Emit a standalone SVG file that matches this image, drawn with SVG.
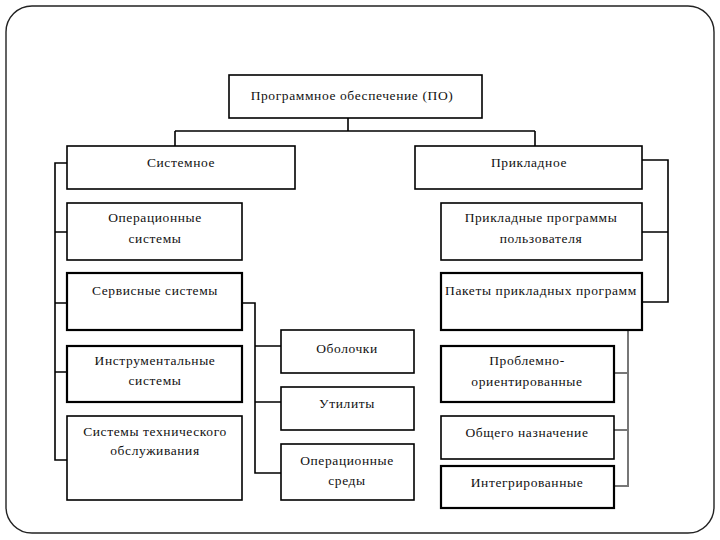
<svg xmlns="http://www.w3.org/2000/svg" width="720" height="540" viewBox="0 0 720 540">
<style>
.box{fill:#fff;stroke:#000;stroke-width:1.6}
.thick{stroke-width:2.2}
.t{font-family:"Liberation Serif","Times New Roman",serif;font-size:13.5px;fill:#111;text-anchor:middle;letter-spacing:0.6px}
.c{fill:none;stroke:#000;stroke-width:1.6}
.g{fill:none;stroke:#777;stroke-width:2}
</style>
<rect width="720" height="540" fill="#fff"/>
<rect x="6" y="6" width="708" height="527" rx="26" ry="26" fill="#fff" stroke="#222" stroke-width="1.4"/>
<g id="connectors">
<path class="c" d="M348 118V131M175 131H535M175 131V146M535 131V146"/>
<path class="c" d="M67 163H55V460H67M55 232H67M55 303H67M55 372H67"/>
<path class="c" d="M242 303H255V473H281M255 346H281M255 402H281"/>
<path class="c" d="M642 160H668V302H642M642 232H668"/>
<path class="g" d="M628 330V486H614M614 373H628M614 430H628"/>
</g>
<g id="n-root"><rect class="box" x="229" y="75" width="253" height="43"/><text class="t" x="352" y="100">Программное обеспечение (ПО)</text></g>
<g id="n-sys"><rect class="box" x="67" y="146" width="228" height="43"/><text class="t" x="181" y="167">Системное</text></g>
<g id="n-app"><rect class="box" x="415" y="146" width="227" height="43"/><text class="t" x="529" y="167">Прикладное</text></g>
<g id="n-os"><rect class="box" x="67" y="203" width="175" height="57"/><text class="t" x="155" y="222">Операционные</text><text class="t" x="155" y="243">системы</text></g>
<g id="n-serv"><rect class="box thick" x="67" y="273" width="175" height="57"/><text class="t" x="155" y="295">Сервисные системы</text></g>
<g id="n-instr"><rect class="box thick" x="67" y="346" width="175" height="56"/><text class="t" x="155" y="365">Инструментальные</text><text class="t" x="155" y="385">системы</text></g>
<g id="n-tech"><rect class="box" x="67" y="416" width="175" height="84"/><text class="t" x="155" y="436">Системы технического</text><text class="t" x="155" y="455">обслуживания</text></g>
<g id="n-shell"><rect class="box" x="281" y="330" width="133" height="43"/><text class="t" x="347" y="353">Оболочки</text></g>
<g id="n-util"><rect class="box" x="281" y="387" width="133" height="43"/><text class="t" x="347" y="408">Утилиты</text></g>
<g id="n-env"><rect class="box" x="281" y="444" width="133" height="56"/><text class="t" x="347" y="465">Операционные</text><text class="t" x="347" y="485">среды</text></g>
<g id="n-user"><rect class="box" x="441" y="203" width="201" height="57"/><text class="t" x="541" y="222">Прикладные программы</text><text class="t" x="541" y="243">пользователя</text></g>
<g id="n-pack"><rect class="box thick" x="441" y="273" width="201" height="57"/><text class="t" x="541" y="295">Пакеты прикладных программ</text></g>
<g id="n-prob"><rect class="box thick" x="441" y="346" width="173" height="56"/><text class="t" x="527" y="365">Проблемно-</text><text class="t" x="527" y="386">ориентированные</text></g>
<g id="n-gen"><rect class="box" x="441" y="416" width="173" height="43"/><text class="t" x="527" y="437">Общего назначение</text></g>
<g id="n-int"><rect class="box thick" x="441" y="466" width="173" height="42"/><text class="t" x="527" y="487">Интегрированные</text></g>
</svg>
